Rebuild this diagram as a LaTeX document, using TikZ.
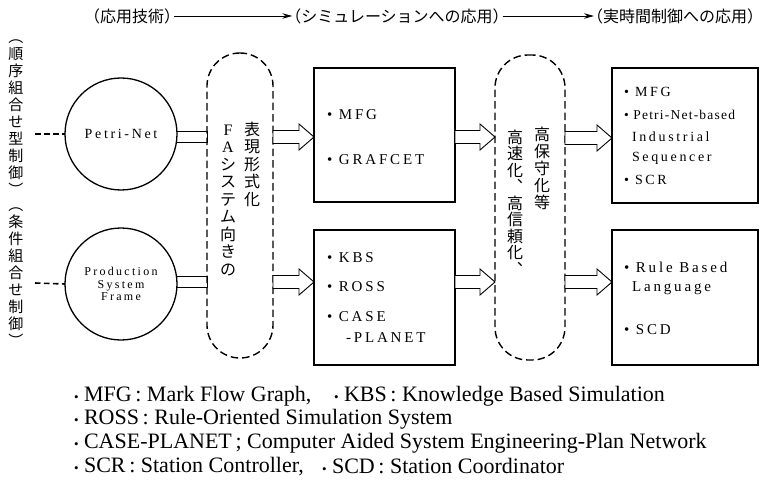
\documentclass[tikz,border=0pt]{standalone}
\usepackage{fontspec}
\setmainfont{Liberation Serif}
\newfontfamily\jpfont{Noto Sans CJK JP}
\newfontfamily\spaced[LetterSpace=19]{Liberation Serif}
\newfontfamily\tightspaced[LetterSpace=9]{Liberation Serif}
\usetikzlibrary{calc,arrows.meta}

% hollow (outlined) block arrow from node #1 to node #2 along row y=#3
\newcommand\hollowarrow[3]{%
  \path (#1.east |- 0,#3) coordinate (ha-s) (#2.west |- 0,#3) coordinate (ha-t);
  \draw[hollow] ($(ha-s)+(0,-6.5)$) -- ($(ha-t)+(-15,-6.5)$) -- ($(ha-t)+(-15,-13)$)
    -- (ha-t) -- ($(ha-t)+(-15,13)$) -- ($(ha-t)+(-15,6.5)$) -- ($(ha-s)+(0,6.5)$) -- cycle;}
\newcommand\smallbullet{{\fontsize{13}{13}\selectfont•}}

\begin{document}
\begin{tikzpicture}[x=1pt,y=-1pt,
  every node/.style={inner sep=0pt,outer sep=0pt},
  capsule/.style={draw,line width=1.4pt,dash pattern=on 7.5pt off 4pt,rounded corners=32.9pt},
  termcirc/.style={draw,circle,line width=1.3pt,minimum size=112pt},
  stagebox/.style={draw,line width=1.5pt},
  hollow/.style={draw,fill=white,line width=0.9pt,line join=miter},
  band/.style={draw,line width=0.9pt},
  lead/.style={line width=2.2pt,dash pattern=on 5.5pt off 3.5pt},
  flow/.style={line width=0.9pt,-{Stealth[length=10pt,width=5.5pt]}},
  head/.style={font=\jpfont\fontsize{16}{16}\selectfont},
  vside/.style={font=\jpfont\fontsize{15}{17}\selectfont,align=center,anchor=north},
  vcol/.style={font=\jpfont\fontsize{16}{17.5}\selectfont,align=center,anchor=north},
  item/.style={font=\spaced\fontsize{15}{15}\selectfont,anchor=west},
  itemsm/.style={font=\spaced\fontsize{14}{14}\selectfont,anchor=west},
  foot/.style={font=\fontsize{22}{22}\selectfont,anchor=west},
]
\useasboundingbox (0,0) rectangle (765,481);

% stage headings along the top
\node[head] (h1) at (132,16) {（応用技術）};
\node[head] (h2) at (397,16) {（シミュレーションへの応用）};
\node[head] (h3) at (675,16) {（実時間制御への応用）};
\draw[flow] ([xshift=-6pt]h1.east) -- ([xshift=7pt]h2.west);
\draw[flow] ([xshift=-6pt]h2.east) -- ([xshift=7pt]h3.west);

% control types written vertically on the left
\node[vside] (lt1) at (16,40) {︵\\順\\序\\組\\合\\せ\\型\\制\\御\\︶};
\node[vside] (lt2) at (16,208) {︵\\条\\件\\組\\合\\せ\\制\\御\\︶};

% modelling techniques
\node[termcirc,font=\spaced\fontsize{14}{14}\selectfont] (pn) at (121,134) {Petri-Net};
\node[termcirc,align=center,font=\spaced\fontsize{12}{12.5}\selectfont] (psf) at (121,284)
  {Production\\System\\Frame};
\coordinate (l1) at (35,134);
\coordinate (l2) at (35,283);
\draw[lead] (l1) -- (pn.west);
\draw[lead,line width=1.6pt] (l2) -- (psf.west);

% dashed stage capsules
\node[capsule,minimum width=66pt,minimum height=305pt] (fa) at (240,205.5) {};
\node[capsule,minimum width=70pt,minimum height=305pt] (sp) at (530,207.5) {};

% simulation and real-time boxes
\node[stagebox,minimum width=141pt,minimum height=134pt] (sim1) at (384.5,135) {};
\node[stagebox,minimum width=141pt,minimum height=135pt] (sim2) at (384.5,297.5) {};
\node[stagebox,minimum width=146pt,minimum height=135pt] (rt1) at (685,135.5) {};
\node[stagebox,minimum width=146pt,minimum height=135pt] (rt2) at (685,297.5) {};

% bands from the circles into the first capsule
\draw[band] (pn.3.6) -- (fa.west |- pn.3.6) -- (fa.west |- pn.-9.7) -- (pn.-9.7);
\draw[band] (psf.8.7) -- (fa.west |- psf.8.7) -- (fa.west |- psf.-4.6) -- (psf.-4.6);

% hollow arrows between the stages
\hollowarrow{fa}{sim1}{137}
\hollowarrow{sim1}{sp}{137}
\hollowarrow{sp}{rt1}{138}
\hollowarrow{fa}{sim2}{282}
\hollowarrow{sim2}{sp}{282}
\hollowarrow{sp}{rt2}{282}

% capsule captions (vertical)
\node[vcol] (fa-r) at (252,122) {表\\現\\形\\式\\化};
\node[vcol] (fa-l) at (228,125) {{\rmfamily F}\\{\rmfamily A}\\シ\\ス\\テ\\ム\\向\\き\\の};
\node[vcol,font=\jpfont\fontsize{16}{17}\selectfont] (sp-r) at (542,127) {高\\保\\守\\化\\等};
\node[vcol,font=\jpfont\fontsize{16}{16.5}\selectfont] (sp-l) at (515,130)
  {高\\速\\化\\︑\\高\\信\\頼\\化\\︑};

% box contents
\node[item] (s1a) at (327,115) {• MFG};
\node[item] (s1b) at (327,160) {• GRAFCET};
\node[item] (s2a) at (327,258) {• KBS};
\node[item] (s2b) at (327,287) {• ROSS};
\node[item] (s2c) at (327,317) {• CASE};
\node[item] (s2d) at (346,338) {-PLANET};
\node[itemsm] (r1a) at (624,92) {• MFG};
\node[itemsm,font=\tightspaced\fontsize{13.5}{13.5}\selectfont] (r1b) at (624,115) {• Petri-Net-based};
\node[itemsm] (r1c) at (632,137) {Industrial};
\node[itemsm] (r1d) at (632,158) {Sequencer};
\node[itemsm] (r1e) at (624,180) {• SCR};
\node[item] (r2a) at (624,267) {• Rule Based};
\node[item] (r2b) at (632,288) {Language};
\node[item] (r2c) at (624,330) {• SCD};

% legend
\node[foot] (f1a) at (74,396) {\smallbullet\ MFG\,: Mark Flow Graph,};
\node[foot] (f1b) at (334,396) {\smallbullet\ KBS\,: Knowledge Based Simulation};
\node[foot] (f2) at (74,419.5) {\smallbullet\ ROSS\,: Rule-Oriented Simulation System};
\node[foot] (f3) at (74,443) {\smallbullet\ CASE-PLANET\,; Computer Aided System Engineering-Plan Network};
\node[foot] (f4a) at (74,466.5) {\smallbullet\ SCR\,: Station Controller,};
\node[foot] (f4b) at (322,466.5) {\smallbullet\ SCD\,: Station Coordinator};
\end{tikzpicture}
\end{document}
